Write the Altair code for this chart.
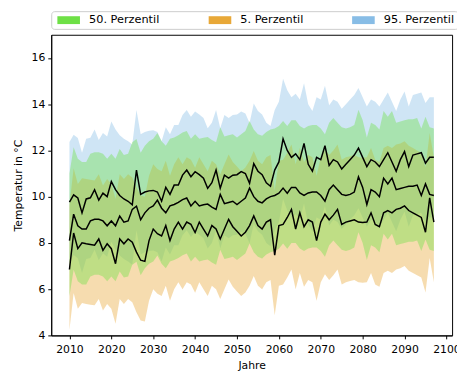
import altair as alt
import pandas as pd

years = list(range(2010, 2098))

# black lines (ensemble mean of each percentile)
p95_mean = [
    9.76, 10.08, 9.94, 9.3, 9.9, 9.95, 10.3, 9.85, 10.15, 10.0,
    10.65, 10.3, 10.05, 9.9, 9.8, 9.65, 11.15, 10.1, 10.2, 10.25,
    10.27, 10.2, 9.8, 10.4, 10.1, 10.5, 10.5, 10.93, 11.15, 10.86,
    11.08, 10.95, 10.8, 10.36, 10.6, 11.15, 10.36, 10.93, 10.8, 10.93,
    10.95, 11.08, 11.0, 10.58, 11.43, 11.1, 10.95, 10.6, 10.45, 11.15,
    11.5, 12.5, 12.0, 11.7, 11.85, 11.6, 12.3, 11.4, 11.1, 11.7,
    11.6, 12.2, 11.35, 11.6, 11.5, 11.2, 11.4, 11.6, 11.8, 12.1,
    11.7, 11.3, 11.6, 11.5, 11.3, 11.6, 11.9, 11.5, 11.1, 11.6,
    11.95, 11.3, 11.8, 11.85, 11.9, 11.45, 11.7, 11.7,
]
p50_mean = [
    8.1, 9.24, 8.74, 8.6, 8.6, 8.95, 9.02, 9.02, 8.95, 8.74,
    8.95, 8.74, 9.16, 8.9, 8.95, 9.45, 9.59, 9.0, 9.3, 9.5,
    9.6, 9.85, 9.5, 9.3, 9.6, 9.66, 9.75, 9.87, 9.94, 9.6,
    9.8, 9.6, 9.65, 9.68, 9.55, 9.45, 10.1, 9.7, 9.75, 9.8,
    9.66, 9.8, 9.94, 10.37, 10.0, 9.8, 9.73, 9.9, 10.0, 10.05,
    10.15, 10.37, 10.15, 10.4, 10.4, 10.16, 10.05, 10.16, 10.2, 10.2,
    10.05, 9.8, 10.3, 10.5, 10.3, 10.1, 10.05, 10.1, 10.2, 10.86,
    10.4, 9.66, 10.3, 10.2, 10.0, 10.8, 10.55, 10.8, 10.3, 10.35,
    10.4, 10.45, 10.45, 10.5, 10.05, 10.55, 10.1, 10.05,
]
p05_mean = [
    6.85, 8.43, 7.75, 8.0, 7.96, 7.93, 7.9, 8.17, 7.68, 7.96,
    7.75, 7.1, 8.17, 7.96, 8.17, 8.03, 7.6, 7.25, 7.2, 8.1,
    8.6, 8.4, 8.3, 8.75, 8.1, 8.6, 8.9, 8.6, 8.9, 8.8,
    8.45, 8.9, 8.6, 8.3, 8.75, 8.6, 8.17, 8.6, 9.02, 8.7,
    8.5, 8.3, 8.46, 8.75, 9.17, 8.75, 8.6, 8.9, 9.0, 7.47,
    8.75, 8.8, 9.1, 9.45, 8.6, 9.3, 8.7, 9.0, 8.9, 8.1,
    8.9, 9.24, 9.0, 9.2, 9.45, 8.8, 8.9, 8.95, 9.0, 8.9,
    8.88, 8.9, 9.3, 8.8, 8.7, 9.3, 9.4, 9.3, 9.45, 9.5,
    9.6, 9.4, 9.3, 9.2, 9.1, 8.46, 9.95, 8.9,
]

series_names = ["50. Perzentil", "5. Perzentil", "95. Perzentil"]
series_colors = ["#6ee046", "#e8a838", "#88bde6"]
# band spread above / below each mean line
spread_up = [2.9, 2.8, 2.6]
spread_down = [2.4, 2.6, 2.6]
means = [p50_mean, p05_mean, p95_mean]

rows = []
for name, m, su, sd in zip(series_names, means, spread_up, spread_down):
    for yr, v in zip(years, m):
        rows.append({"year": yr, "series": name, "mean": v,
                     "lo": round(v - sd, 3), "hi": round(v + su, 3)})
df = pd.DataFrame(rows)

x_enc = alt.X(
    "year:Q",
    scale=alt.Scale(domain=[2005.65, 2101.35], nice=False, zero=False),
    axis=alt.Axis(values=list(range(2010, 2101, 10)), format="d", title="Jahre",
                  labelPadding=5, titlePadding=5),
)
y_axis = alt.Axis(values=[4, 6, 8, 10, 12, 14, 16], title="Temperatur in °C",
                  labelPadding=3, titlePadding=8)
y_scale = alt.Scale(domain=[4, 17], nice=False, zero=False)

color = alt.Color(
    "series:N",
    scale=alt.Scale(domain=series_names, range=series_colors),
    legend=alt.Legend(
        title=None, orient="none", legendX=0, legendY=-24, direction="horizontal",
        symbolType="M-2.875,-1H2.875V1H-2.875Z", symbolSize=64, symbolOpacity=1,
        symbolStrokeWidth=0, symbolOffset=9, labelFontSize=11.5, labelFont="DejaVu Sans",
        labelColor="black", labelOffset=15, columnPadding=46, padding=3,
        strokeColor="#cccccc", cornerRadius=3, fillColor="white",
    ),
)

def band(name):
    return (
        alt.Chart(df)
        .transform_filter(alt.datum.series == name)
        .mark_area(opacity=0.4)
        .encode(x=x_enc, y=alt.Y("lo:Q", scale=y_scale, axis=y_axis), y2="hi:Q", color=color)
    )

lines = (
    alt.Chart(df)
    .mark_line(color="black", strokeWidth=1.5)
    .encode(x=x_enc, y=alt.Y("mean:Q", scale=y_scale, axis=y_axis), detail="series:N")
)

chart = (
    alt.layer(band("95. Perzentil"), band("5. Perzentil"), band("50. Perzentil"), lines)
    .properties(width=408, height=306, autosize=alt.AutoSizeParams(type="none"),
                padding={"left": 44, "top": 24, "right": 5, "bottom": 34})
    .configure(font="DejaVu Sans")
    .configure_view(stroke="black", strokeWidth=1)
    .configure_axis(labelFontSize=11, titleFontSize=11, titleFontWeight="normal",
                    labelColor="black", titleColor="black", tickColor="black",
                    domainColor="black", tickSize=3.5, grid=False, labelFlush=False)
)

chart.save("out.html", embed_options={"renderer": "svg", "actions": False})
